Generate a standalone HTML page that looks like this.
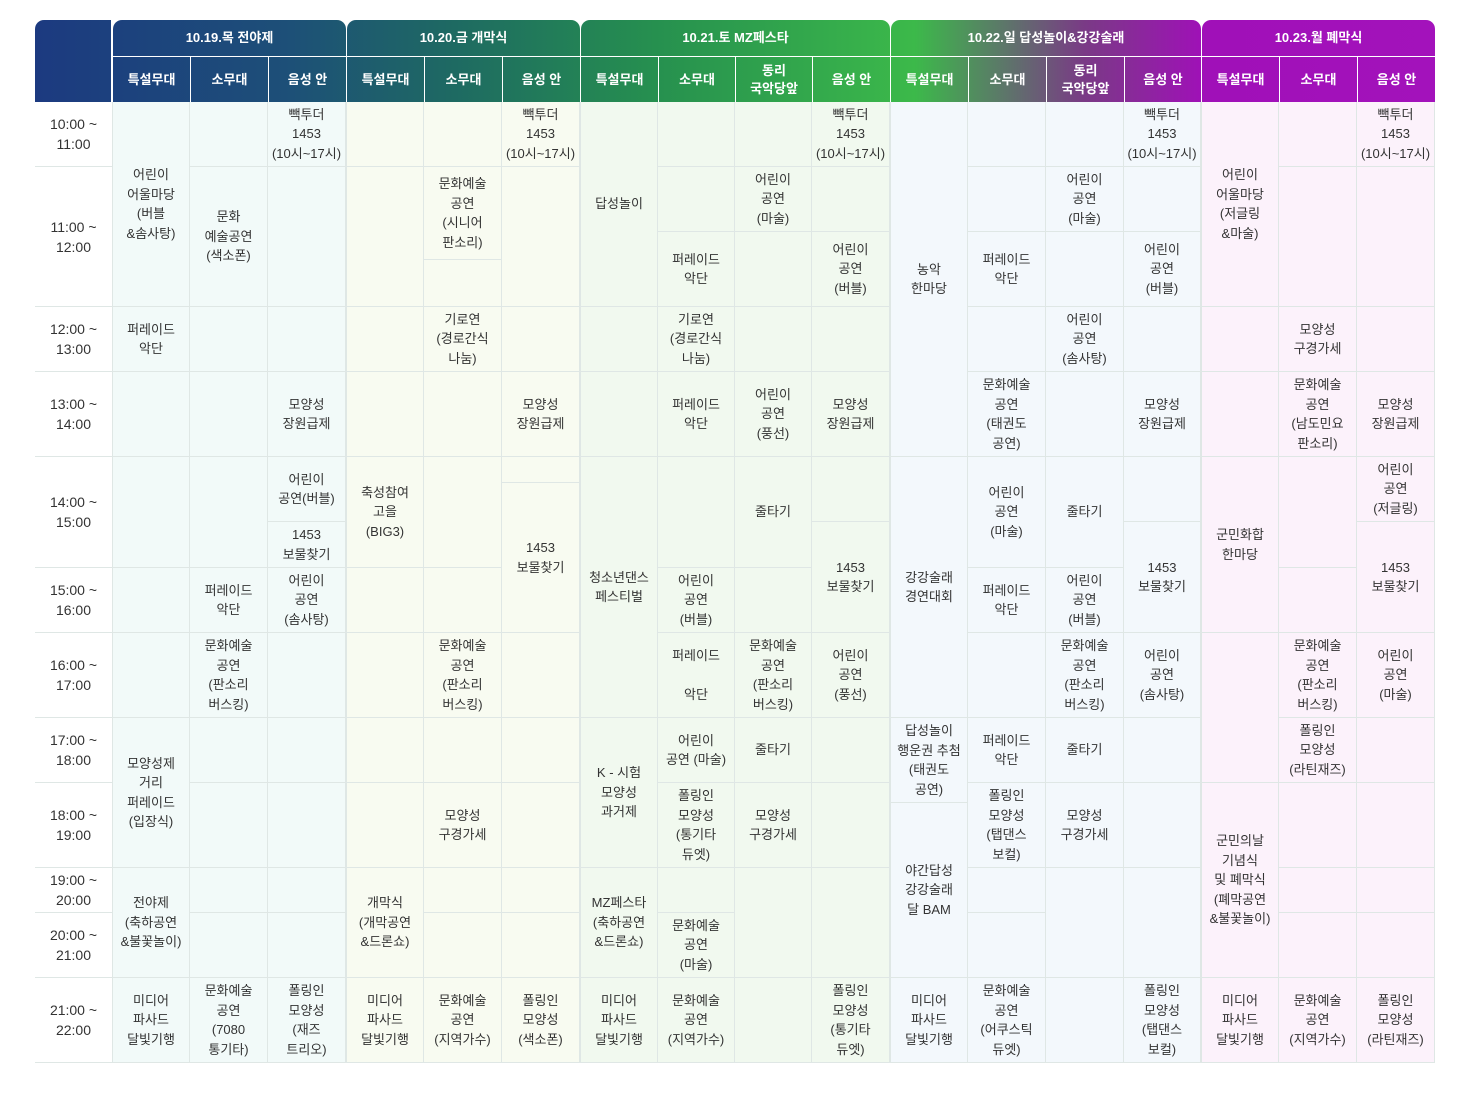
<!DOCTYPE html>
<html><head><meta charset="utf-8">
<style>
body{margin:0;width:1459px;height:1094px;background:#fff;position:relative;overflow:hidden;font-family:"Liberation Sans","Noto Sans CJK KR",sans-serif;}
.h{position:absolute;color:#fff;font-weight:bold;display:flex;align-items:center;justify-content:center;text-align:center;box-sizing:border-box;font-size:13px;line-height:18px;
 background-image:linear-gradient(90deg,#1c3a80 0px,#1d4f78 250px,#1e6a62 420px,#26904f 620px,#3cb94a 880px,#7a3a86 1050px,#a010b8 1170px,#a312bb 1400px);background-size:1400px 82px;background-repeat:no-repeat;}
.c{position:absolute;box-sizing:border-box;border-right:1px solid #dfe7e5;border-bottom:1px solid #dfe7e5;display:flex;align-items:center;justify-content:center;text-align:center;font-size:13px;line-height:19.5px;color:#333;}
.t{position:absolute;box-sizing:border-box;border-bottom:1px solid #dfe7e5;display:flex;align-items:center;justify-content:center;text-align:center;font-size:14px;line-height:20px;color:#333;background:#fff;}
</style></head>
<body>
<div id="root"></div>
<script>
const colX=[112,190,268,346,424,502,580,658,735,812,890,968,1046,1124,1201,1279,1357,1435];
const dayBg=['#f2faf9','#f2faf9','#f2faf9','#f8fbf1','#f8fbf1','#f8fbf1','#f1f9ef','#f1f9ef','#f1f9ef','#f1f9ef','#f3f8fc','#f3f8fc','#f3f8fc','#f3f8fc','#fcf2fb','#fcf2fb','#fcf2fb'];
const days=[[0,3,'10.19.목 전야제'],[3,6,'10.20.금 개막식'],[6,10,'10.21.토 MZ페스타'],[10,14,'10.22.일 답성놀이&강강술래'],[14,17,'10.23.월 폐막식']];
const stages=['특설무대','소무대','음성 안','특설무대','소무대','음성 안','특설무대','소무대','동리<br>국악당앞','음성 안','특설무대','소무대','동리<br>국악당앞','음성 안','특설무대','소무대','음성 안'];
const rowY=[102,167,307,372,457,568,633,718,783,868,913,978,1063];
const times=['10:00 ~<br>11:00','11:00 ~<br>12:00','12:00 ~<br>13:00','13:00 ~<br>14:00','14:00 ~<br>15:00','15:00 ~<br>16:00','16:00 ~<br>17:00','17:00 ~<br>18:00','18:00 ~<br>19:00','19:00 ~<br>20:00','20:00 ~<br>21:00','21:00 ~<br>22:00'];
const BB='빽투더<br>1453<br>(10시~17시)', MD='미디어<br>파사드<br>달빛기행';
const cells=[
[[102,307,'어린이<br>어울마당<br>(버블<br>&솜사탕)'],[307,372,'퍼레이드<br>악단'],[372,457,''],[457,568,''],[568,633,''],[633,718,''],[718,868,'모양성제<br>거리<br>퍼레이드<br>(입장식)'],[868,978,'전야제<br>(축하공연<br>&불꽃놀이)'],[978,1063,MD]],
[[102,167,''],[167,307,'문화<br>예술공연<br>(색소폰)'],[307,372,''],[372,457,''],[457,568,''],[568,633,'퍼레이드<br>악단'],[633,718,'문화예술<br>공연<br>(판소리<br>버스킹)'],[718,783,''],[783,868,''],[868,913,''],[913,978,''],[978,1063,'문화예술<br>공연<br>(7080<br>통기타)']],
[[102,167,BB],[167,307,''],[307,372,''],[372,457,'모양성<br>장원급제'],[457,522,'어린이<br>공연(버블)'],[522,568,'1453<br>보물찾기'],[568,633,'어린이<br>공연<br>(솜사탕)'],[633,718,''],[718,783,''],[783,868,''],[868,913,''],[913,978,''],[978,1063,'폴링인<br>모양성<br>(재즈<br>트리오)']],
[[102,167,''],[167,307,''],[307,372,''],[372,457,''],[457,568,'축성참여<br>고을<br>(BIG3)'],[568,633,''],[633,718,''],[718,783,''],[783,868,''],[868,978,'개막식<br>(개막공연<br>&드론쇼)'],[978,1063,MD]],
[[102,167,''],[167,260,'문화예술<br>공연<br>(시니어<br>판소리)'],[260,307,''],[307,372,'기로연<br>(경로간식<br>나눔)'],[372,457,''],[457,568,''],[568,633,''],[633,718,'문화예술<br>공연<br>(판소리<br>버스킹)'],[718,783,''],[783,868,'모양성<br>구경가세'],[868,913,''],[913,978,''],[978,1063,'문화예술<br>공연<br>(지역가수)']],
[[102,167,BB],[167,307,''],[307,372,''],[372,457,'모양성<br>장원급제'],[457,483,''],[483,633,'1453<br>보물찾기'],[633,718,''],[718,783,''],[783,868,''],[868,913,''],[913,978,''],[978,1063,'폴링인<br>모양성<br>(색소폰)']],
[[102,307,'답성놀이'],[307,372,''],[372,457,''],[457,718,'청소년댄스<br>페스티벌'],[718,868,'K - 시험<br>모양성<br>과거제'],[868,978,'MZ페스타<br>(축하공연<br>&드론쇼)'],[978,1063,MD]],
[[102,167,''],[167,232,''],[232,307,'퍼레이드<br>악단'],[307,372,'기로연<br>(경로간식<br>나눔)'],[372,457,'퍼레이드<br>악단'],[457,568,''],[568,633,'어린이<br>공연<br>(버블)'],[633,718,'퍼레이드<br><br>악단'],[718,783,'어린이<br>공연 (마술)'],[783,868,'폴링인<br>모양성<br>(통기타<br>듀엣)'],[868,913,''],[913,978,'문화예술<br>공연<br>(마술)'],[978,1063,'문화예술<br>공연<br>(지역가수)']],
[[102,167,''],[167,232,'어린이<br>공연<br>(마술)'],[232,307,''],[307,372,''],[372,457,'어린이<br>공연<br>(풍선)'],[457,568,'줄타기'],[568,633,''],[633,718,'문화예술<br>공연<br>(판소리<br>버스킹)'],[718,783,'줄타기'],[783,868,'모양성<br>구경가세'],[868,978,''],[978,1063,'']],
[[102,167,BB],[167,232,''],[232,307,'어린이<br>공연<br>(버블)'],[307,372,''],[372,457,'모양성<br>장원급제'],[457,522,''],[522,633,'1453<br>보물찾기'],[633,718,'어린이<br>공연<br>(풍선)'],[718,783,''],[783,868,''],[868,978,''],[978,1063,'폴링인<br>모양성<br>(통기타<br>듀엣)']],
[[102,457,'농악<br>한마당'],[457,718,'강강술래<br>경연대회'],[718,803,'답성놀이<br>행운권 추첨<br>(태권도<br>공연)'],[803,978,'야간답성<br>강강술래<br>달 BAM'],[978,1063,MD]],
[[102,167,''],[167,232,''],[232,307,'퍼레이드<br>악단'],[307,372,''],[372,457,'문화예술<br>공연<br>(태권도<br>공연)'],[457,568,'어린이<br>공연<br>(마술)'],[568,633,'퍼레이드<br>악단'],[633,718,''],[718,783,'퍼레이드<br>악단'],[783,868,'폴링인<br>모양성<br>(탭댄스<br>보컬)'],[868,913,''],[913,978,''],[978,1063,'문화예술<br>공연<br>(어쿠스틱<br>듀엣)']],
[[102,167,''],[167,232,'어린이<br>공연<br>(마술)'],[232,307,''],[307,372,'어린이<br>공연<br>(솜사탕)'],[372,457,''],[457,568,'줄타기'],[568,633,'어린이<br>공연<br>(버블)'],[633,718,'문화예술<br>공연<br>(판소리<br>버스킹)'],[718,783,'줄타기'],[783,868,'모양성<br>구경가세'],[868,978,''],[978,1063,'']],
[[102,167,BB],[167,232,''],[232,307,'어린이<br>공연<br>(버블)'],[307,372,''],[372,457,'모양성<br>장원급제'],[457,522,''],[522,633,'1453<br>보물찾기'],[633,718,'어린이<br>공연<br>(솜사탕)'],[718,783,''],[783,868,''],[868,978,''],[978,1063,'폴링인<br>모양성<br>(탭댄스<br>보컬)']],
[[102,307,'어린이<br>어울마당<br>(저글링<br>&마술)'],[307,372,''],[372,457,''],[457,633,'군민화합<br>한마당'],[633,783,''],[783,978,'군민의날<br>기념식<br>및 폐막식<br>(폐막공연<br>&불꽃놀이)'],[978,1063,MD]],
[[102,167,''],[167,307,''],[307,372,'모양성<br>구경가세'],[372,457,'문화예술<br>공연<br>(남도민요<br>판소리)'],[457,568,''],[568,633,''],[633,718,'문화예술<br>공연<br>(판소리<br>버스킹)'],[718,783,'폴링인<br>모양성<br>(라틴재즈)'],[783,868,''],[868,913,''],[913,978,''],[978,1063,'문화예술<br>공연<br>(지역가수)']],
[[102,167,BB],[167,307,''],[307,372,''],[372,457,'모양성<br>장원급제'],[457,522,'어린이<br>공연<br>(저글링)'],[522,633,'1453<br>보물찾기'],[633,718,'어린이<br>공연<br>(마술)'],[718,783,''],[783,868,''],[868,913,''],[913,978,''],[978,1063,'폴링인<br>모양성<br>(라틴재즈)']]
];
const root=document.getElementById('root');
function box(cls,x,y,w,h,html){const d=document.createElement('div');d.className=cls;d.style.cssText=`left:${x}px;top:${y}px;width:${w}px;height:${h}px;`;d.innerHTML=html;root.appendChild(d);return d;}
// corner header
let ch=box('h',35,20,76,82,'');ch.style.backgroundPosition='0 0';ch.style.borderTopLeftRadius='9px';


days.forEach(([a,b,label])=>{
  const x=colX[a],w=colX[b]-colX[a]-1;
  const d=box('h',x+1,20,w,36,label);
  d.style.backgroundPosition=`${-(x+1-35)}px 0`;d.style.borderRadius='9px 9px 0 0';
  
  
});
stages.forEach((s,i)=>{
  const x=colX[i],w=colX[i+1]-x-1;
  const d=box('h',x+1,57,w,45,s);d.style.backgroundPosition=`${-(x+1-35)}px -37px`;
  
  
});
times.forEach((t,i)=>{
  const d=box('t',35,rowY[i],77,rowY[i+1]-rowY[i],t);
  
  
});
cells.forEach((col,i)=>{
  col.forEach(([y0,y1,txt])=>{
    const d=box('c',colX[i],y0,colX[i+1]-colX[i],y1-y0,txt);
    d.style.background=dayBg[i];
    if(i===0||i===3||i===6||i===10||i===14)d.style.borderLeft='1px solid #dfe7e5';
    
    
  });
});
</script>
</body></html>
